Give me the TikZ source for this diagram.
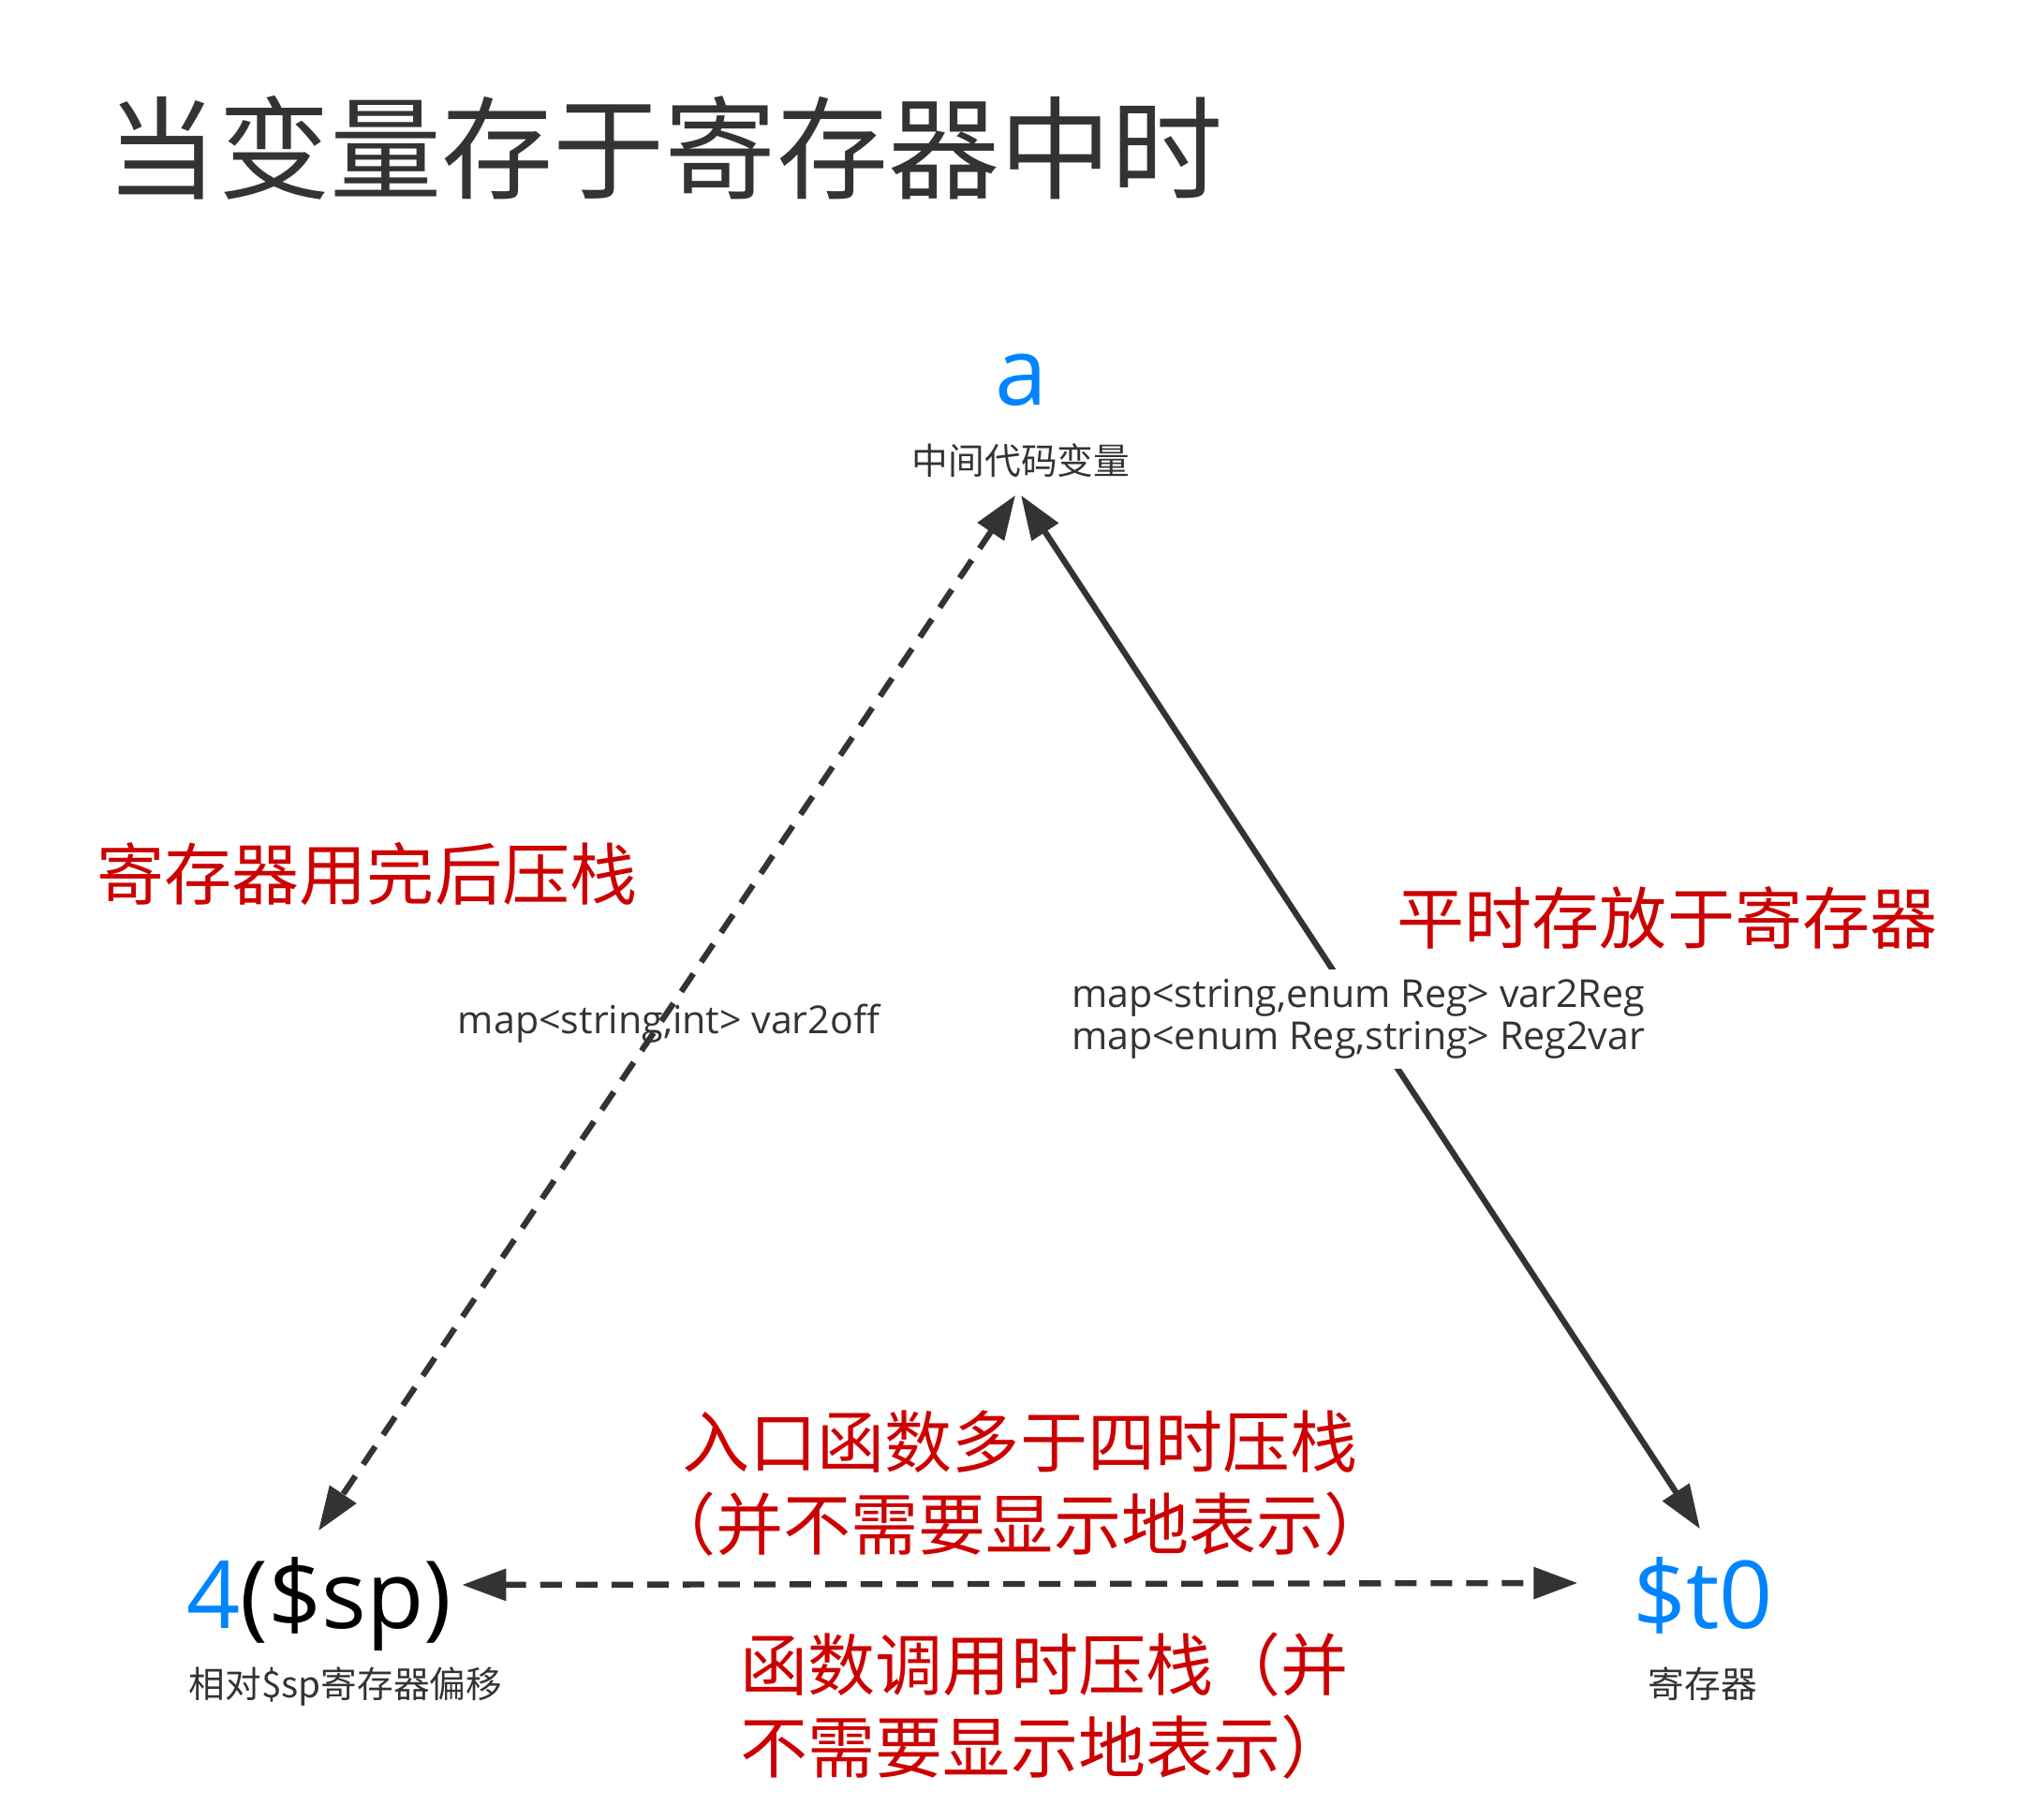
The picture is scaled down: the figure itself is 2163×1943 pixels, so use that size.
\documentclass[tikz,border=0pt]{standalone}
\usepackage{fontspec}
\setmainfont{Open Sans}
\newfontfamily\cjk{Noto Sans CJK SC}
\usepackage{tikz}
\usetikzlibrary{
    arrows.meta,
    positioning,
    calc
}
\definecolor{varblue}{RGB}{0,132,255}
\definecolor{notered}{RGB}{204,0,0}
\definecolor{inkgray}{RGB}{51,51,51}
\tikzset{
    titletext/.style={inner sep=0pt, text=inkgray, font=\fontsize{33.9}{40}\selectfont\cjk},
    bigtext/.style={inner sep=0pt, anchor=base, text height=0.76cm, text depth=0.24cm,
        font=\fontsize{28.5}{34}\selectfont},
    subtext/.style={inner sep=0pt, anchor=base, text=inkgray, text height=0.34cm, text depth=0.06cm,
        font=\fontsize{11}{13}\selectfont\cjk},
    codetext/.style={inner sep=0pt, text=inkgray, font=\fontsize{11.7}{12.8}\selectfont},
    redtext/.style={inner sep=0pt, text=notered, font=\fontsize{20.5}{25}\selectfont\cjk},
    link/.style={draw=inkgray, line width=1.8pt,
        {Triangle[length=0.47cm,width=0.33cm]}-{Triangle[length=0.47cm,width=0.33cm]}},
    dlink/.style={link, dash pattern=on 0.23cm off 0.15cm},
}

\begin{document}
\begin{tikzpicture}[x=0.01cm, y=-0.01cm]
    \useasboundingbox (0,0) rectangle (2163,1943);

    \node[titletext] (title) at (710,158) {当变量存于寄存器中时};

    %% three places of a variable
    \node[bigtext, text=varblue] (avar) at (1090,433) {a};
    \node[subtext] (asub) at (1090,507) {中间代码变量};
    \node[bigtext] (sp) at (341,1738) {\textcolor{varblue}{4}(\$sp)};
    \node[subtext] (spsub) at (369,1812) {相对\$sp寄存器偏移};
    \node[bigtext, text=varblue] (t0) at (1818,1738) {\$t0};
    \node[subtext] (t0sub) at (1818,1812) {寄存器};

    %% connectors
    \draw[dlink] ($(asub.south)+(-6,15)$) -- ($(sp.north)+(-1,-27)$);
    \draw[dlink] ($(sp.east)+(10,-20)$) -- ($(t0.west)+(-58,-22)$);
    \draw[link] ($(asub.south)+(0,15)$) -- ($(t0.north)+(-3,-29)$);

    %% maps
    \node[codetext, anchor=base] (offmap) at (714,1103) {map<string,int> var2off};
    \node[codetext, fill=white, align=left, inner xsep=2pt, inner ysep=3pt] (regmap) at (1450,1088)
        {map<string,enum Reg> var2Reg\\map<enum Reg,string> Reg2var};

    %% notes
    \node[redtext] (pushnote) at (392,933) {寄存器用完后压栈};
    \node[redtext] (regnote) at (1780,980) {平时存放于寄存器};
    \node[redtext, align=center] (entrynote) at (1089,1584) {入口函数多于四时压栈\\（并不需要显示地表示）};
    \node[redtext, align=left, anchor=west] (callnote) at (790,1821) {函数调用时压栈（并\\不需要显示地表示）};
\end{tikzpicture}
\end{document}
